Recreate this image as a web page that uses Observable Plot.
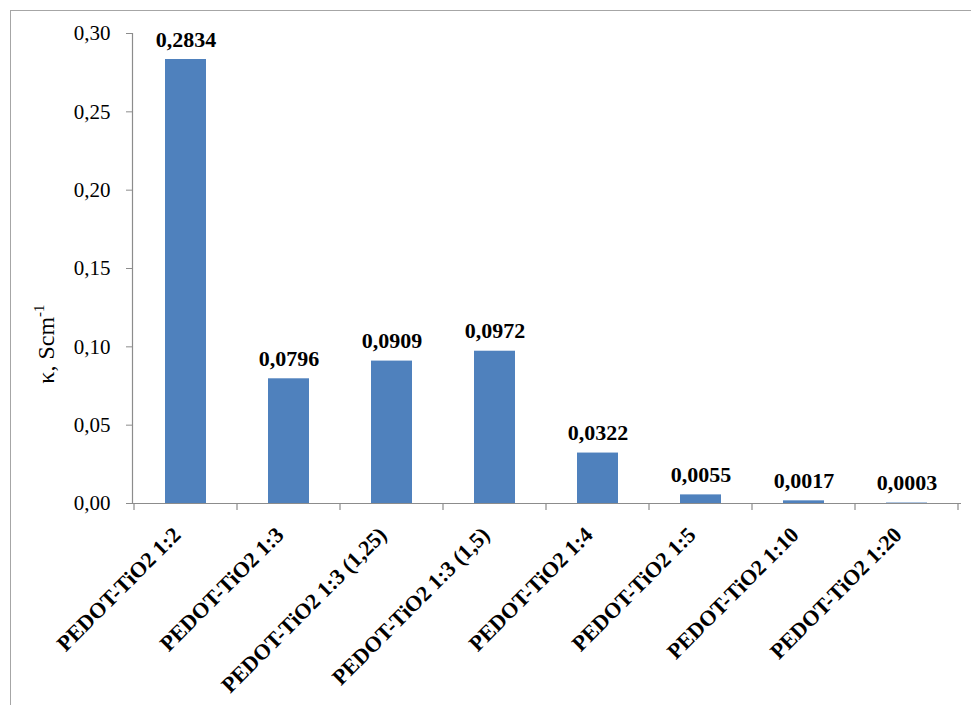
<!DOCTYPE html>
<html>
<head>
<meta charset="utf-8">
<script src="https://cdn.jsdelivr.net/npm/d3@7"></script>
<script src="https://cdn.jsdelivr.net/npm/@observablehq/plot@0.6"></script>
<style>
  html, body { margin: 0; padding: 0; background: #fff; }
  #wrap { position: relative; width: 971px; height: 705px; overflow: hidden; }
  #frame { position: absolute; left: 10px; top: 10px; width: 980px; height: 720px;
           border-left: 1.5px solid #a6a6a6; border-top: 1.5px solid #a6a6a6; }
  #chart { position: absolute; left: 0; top: 0; }
  #chart svg, #chart svg text, #chart svg tspan { font-family: "Liberation Serif", "Times New Roman", Tinos, "DejaVu Serif", serif !important; }
</style>
</head>
<body>
<div id="wrap"><div id="frame"></div><div id="chart"></div></div>
<script>
const categories = ["PEDOT-TiO2 1:2", "PEDOT-TiO2 1:3", "PEDOT-TiO2 1:3 (1,25)", "PEDOT-TiO2 1:3 (1,5)",
                    "PEDOT-TiO2 1:4", "PEDOT-TiO2 1:5", "PEDOT-TiO2 1:10", "PEDOT-TiO2 1:20"];
const values = [0.2834, 0.0796, 0.0909, 0.0972, 0.0322, 0.0055, 0.0017, 0.0003];
const yTicks = [0, 0.05, 0.10, 0.15, 0.20, 0.25, 0.30];
const yLabel = "κ, Scm";
const yLabelSup = "-1";

const data = categories.map((c, i) => ({cat: c, v: values[i]}));
const serif = "'Liberation Serif', 'Times New Roman', Tinos, 'DejaVu Serif', serif";
const comma = (d, n) => d.toFixed(n).replace(".", ",");

const plot = Plot.plot({
  width: 971,
  height: 705,
  marginTop: 33,
  marginBottom: 202,
  marginLeft: 132,
  marginRight: 10,
  style: {fontFamily: serif, background: "transparent", overflow: "visible"},
  x: {domain: categories, paddingInner: 0.6, paddingOuter: 0.3, axis: null},
  y: {domain: [0, 0.30], axis: null},
  marks: [
    Plot.barY(data, {x: "cat", y: "v", fill: "#4f81bd"}),
    Plot.ruleY([0], {stroke: "#8c8c8c", strokeWidth: 1.2}),
    Plot.frame({anchor: "left", stroke: "#8c8c8c", strokeWidth: 1.2}),
    Plot.axisY({ticks: yTicks, tickSize: 6, tickPadding: 16, stroke: "#8c8c8c",
                tickFormat: d => comma(d, 2), fontSize: 21, fill: "#000", label: null}),
    Plot.axisX({tickSize: 0, tickRotate: -45, fontSize: 22, fontWeight: "bold",
                fill: "#000", dx: -9, dy: 16, label: null}),
    Plot.text(data, {x: "cat", y: "v", text: d => comma(d.v, 4), dy: -20,
                     fontSize: 22, fontWeight: "bold", fill: "#000"})
  ]
});
document.getElementById("chart").appendChild(plot);

// boundary ticks on category axis
const xs = plot.scale("x");
const ys = plot.scale("y");
const svg = d3.select(plot);
const off = (xs.step - xs.bandwidth) / 2;
const bounds = categories.map(c => xs.apply(c) - off);
bounds.push(xs.apply(categories[categories.length - 1]) + xs.bandwidth + off);
const y0 = ys.apply(0);
svg.append("g").selectAll("line").data(bounds).join("line")
  .attr("x1", d => d).attr("x2", d => d)
  .attr("y1", y0).attr("y2", y0 + 7)
  .attr("stroke", "#8c8c8c").attr("stroke-width", 1.2);

// y-axis title with superscript
const t = svg.append("text")
  .attr("transform", `translate(54,344) rotate(-90)`)
  .attr("text-anchor", "middle")
  .attr("font-size", 24)
  .attr("fill", "#000");
t.append("tspan").text(yLabel);
t.append("tspan").attr("dy", -10).attr("font-size", 15).text(yLabelSup);
</script>
</body>
</html>
